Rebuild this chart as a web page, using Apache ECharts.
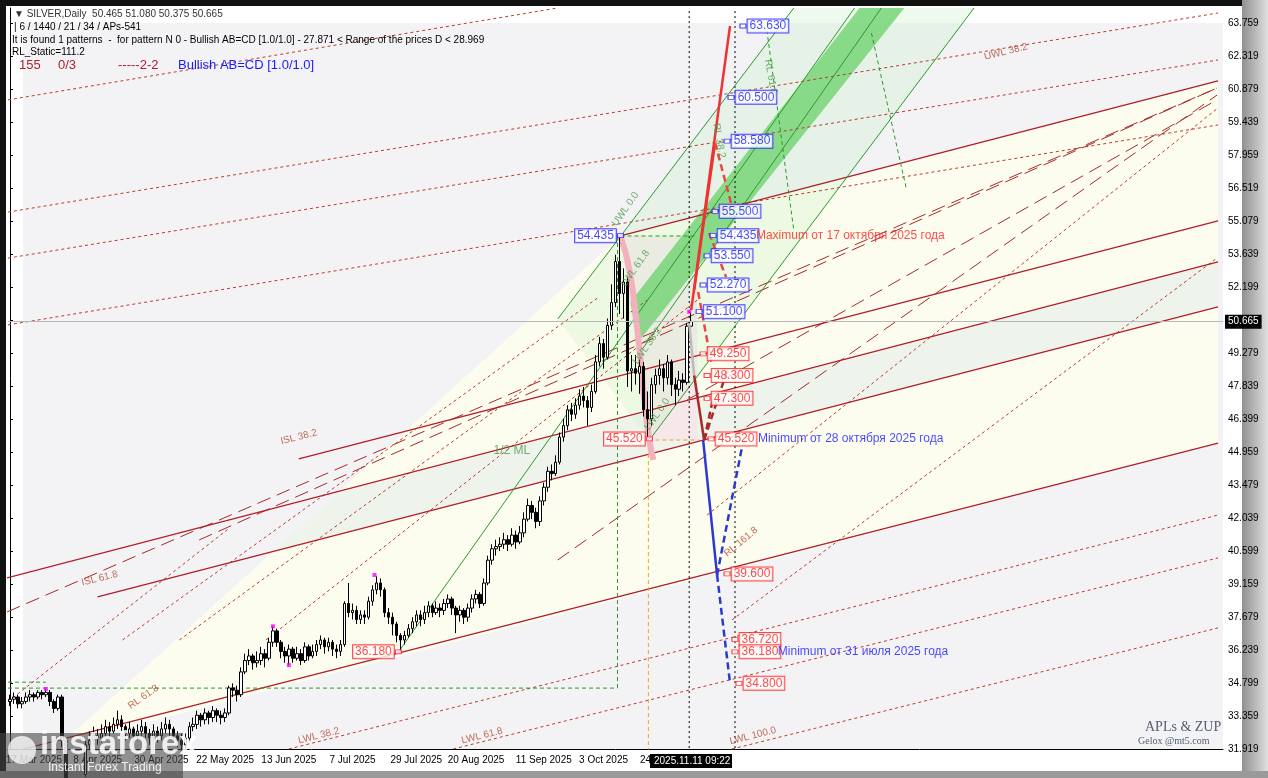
<!DOCTYPE html>
<html><head><meta charset="utf-8">
<script src="https://cdn.jsdelivr.net/npm/echarts@6/dist/echarts.min.js"></script>
<style>html,body{margin:0;padding:0;background:#111;}#c{width:1268px;height:778px;}</style>
</head><body><div id="c"></div>
<script>
// ---- data ----
const closes=[34.1,34.2,33.9,34.0,34.2,34.3,34.2,34.4,34.3,34.4,34.0,33.7,34.2,32.3,29.6,29.9,29.7,31.0,30.8,32.1,32.3,32.5,32.4,32.6,32.9,32.7,33.0,33.2,32.9,32.6,32.8,32.5,32.7,32.9,32.6,32.4,32.7,32.5,32.8,33.0,32.8,32.5,32.3,32.1,32.4,32.9,33.0,33.4,33.2,33.5,33.3,33.6,33.4,33.3,33.5,34.6,34.5,34.3,35.3,35.8,36.0,35.7,35.8,36.1,35.9,36.6,37.1,36.6,36.2,36.0,36.3,35.9,36.1,35.8,36.4,36.0,36.2,36.5,36.7,36.4,36.6,36.3,36.2,36.5,38.3,37.9,38.0,37.6,37.8,37.7,38.4,38.9,39.2,38.9,37.9,37.7,37.4,36.9,36.7,36.9,37.2,37.5,37.8,37.6,37.9,38.2,37.9,38.1,38.0,38.3,38.5,38.1,37.8,38.0,37.7,38.1,38.5,38.7,38.3,39.2,40.2,40.7,40.8,40.9,41.1,40.9,41.3,41.0,41.4,42.0,42.6,42.3,41.9,42.8,43.4,44.1,44.0,44.5,45.6,46.1,46.8,46.6,47.0,47.4,47.2,46.9,47.6,48.9,49.7,49.1,50.5,51.5,53.3,51.9,52.4,48.5,48.6,48.4,48.7,46.8,46.4,47.9,48.3,48.6,48.2,48.9,47.9,47.7,48.1,48.0,50.465,50.665];
const opens=[34.0,34.1,34.2,33.9,34.0,34.2,34.3,34.2,34.4,34.3,34.4,34.0,33.7,34.2,32.3,29.6,29.9,29.7,31.0,30.8,32.1,32.3,32.5,32.4,32.6,32.9,32.7,33.0,33.2,32.9,32.6,32.8,32.5,32.7,32.9,32.6,32.4,32.7,32.5,32.8,33.0,32.8,32.5,32.3,32.1,32.4,32.9,33.0,33.4,33.2,33.5,33.3,33.6,33.4,33.3,33.5,34.6,34.5,34.3,35.3,35.8,36.0,35.7,35.8,36.1,35.9,36.6,37.1,36.6,36.2,36.0,36.3,35.9,36.1,35.8,36.4,36.0,36.2,36.5,36.7,36.4,36.6,36.3,36.2,36.5,38.3,37.9,38.0,37.6,37.8,37.7,38.4,38.9,39.2,38.9,37.9,37.7,37.4,36.9,36.7,36.9,37.2,37.5,37.8,37.6,37.9,38.2,37.9,38.1,38.0,38.3,38.5,38.1,37.8,38.0,37.7,38.1,38.5,38.7,38.3,39.2,40.2,40.7,40.8,40.9,41.1,40.9,41.3,41.0,41.4,42.0,42.6,42.3,41.9,42.8,43.4,44.1,44.0,44.5,45.6,46.1,46.8,46.6,47.0,47.4,47.2,46.9,47.6,48.9,49.7,49.1,50.5,51.5,53.3,51.9,52.4,48.5,48.6,48.4,48.7,46.8,46.4,47.9,48.3,48.6,48.2,48.9,47.9,47.7,48.1,48.0,50.465];
const highs=[34.3,34.4,34.3,34.2,34.4,34.5,34.4,34.5,34.5,34.55,34.5,34.1,34.3,34.3,32.4,30.5,30.6,31.3,31.5,32.3,32.7,32.9,32.8,33.0,33.2,33.1,33.3,33.6,33.4,33.0,33.1,32.9,33.0,33.2,33.1,32.8,33.0,32.9,33.1,33.3,33.2,32.9,32.7,32.6,32.6,33.1,33.3,33.6,33.5,33.7,33.6,33.8,33.7,33.6,33.7,34.7,34.8,34.7,35.5,36.1,36.3,36.1,36.2,36.4,36.3,36.8,37.3,37.2,36.7,36.4,36.5,36.4,36.4,36.3,36.6,36.5,36.5,36.7,36.9,36.8,36.8,36.7,36.5,36.7,38.4,39.2,38.3,38.2,38.0,38.0,38.6,39.1,39.5,39.4,39.0,38.1,37.9,37.5,37.0,37.1,37.4,37.7,38.0,38.0,38.2,38.4,38.3,38.4,38.3,38.5,38.7,38.6,38.2,38.2,38.1,38.3,38.7,38.9,38.8,39.4,40.4,40.9,41.1,41.2,41.4,41.3,41.6,41.5,41.7,42.3,42.9,42.8,42.5,43.0,43.6,44.3,44.4,44.8,45.8,46.4,47.0,47.1,47.3,47.7,47.8,47.4,47.9,49.2,50.0,49.9,50.8,52.3,53.6,54.435,53.0,52.6,49.2,49.2,49.0,48.9,47.6,48.2,48.6,49.0,48.8,49.2,49.0,48.2,48.5,48.4,50.6,51.08];
const lows=[33.8,33.9,33.7,33.7,33.9,34.0,34.0,34.1,34.1,34.2,33.8,33.5,33.6,32.0,29.3,28.4,29.2,29.5,30.4,30.7,31.9,32.1,32.1,32.2,32.4,32.4,32.6,32.8,32.7,32.3,32.4,32.2,32.3,32.5,32.4,32.1,32.2,32.2,32.3,32.6,32.5,32.2,32.0,31.8,31.9,32.2,32.7,32.8,32.9,33.0,33.0,33.1,33.1,33.0,33.1,33.4,34.2,34.0,34.2,35.2,35.6,35.4,35.5,35.6,35.5,35.8,36.4,36.4,35.9,35.7,35.6,35.7,35.8,35.6,35.7,35.8,35.9,36.0,36.3,36.1,36.2,36.0,35.9,36.0,36.4,37.7,37.6,37.4,37.4,37.4,37.6,38.2,38.7,38.6,37.7,37.4,36.9,36.6,36.18,36.5,36.8,37.0,37.3,37.3,37.4,37.7,37.7,37.8,37.7,37.8,38.1,37.8,37.0,37.5,37.4,37.5,37.9,38.3,38.1,38.2,39.1,40.0,40.4,40.6,40.7,40.6,40.8,40.7,40.9,41.2,41.9,42.0,41.6,41.7,42.6,43.2,43.7,43.9,44.4,45.4,45.9,46.3,46.4,46.8,46.9,46.1,46.7,47.5,48.7,48.6,49.0,50.3,51.3,51.0,50.8,47.8,47.6,47.9,47.5,46.5,45.52,46.1,47.5,47.9,47.6,47.9,47.4,47.0,47.4,47.6,47.9,50.375];
const dateTickIdx=[6,22,38,54,70,86,102,117,134,149,165];
const dateTickText=['17 Mar 2025','8 Apr 2025','30 Apr 2025','22 May 2025','13 Jun 2025','7 Jul 2025','29 Jul 2025','20 Aug 2025','11 Sep 2025','3 Oct 2025','24 Oct 2025'];
const yTickText=['31.919','33.359','34.799','36.239','37.679','39.159','40.599','42.039','43.479','44.959','46.399','47.839','49.279','','52.199','53.639','55.079','56.519','57.959','59.439','60.879','62.319','63.759'];
const lastPrice=50.665;
const blueLevels=[[184,63.630],[181,60.500],[180,58.580],[177,55.500],[176.5,54.435],[175,53.550],[174,52.270],[173,51.100]];
const redLevels=[[174,49.250],[175,48.300],[175,47.300],[176,45.520],[180,39.600],[182,36.720],[182,36.180],[183,34.800]];
const leftBlue=[[153.25,54.435]];
const leftRed=[[160.5,45.520],[97.5,36.180]];
const pivots=[[9,34.55],[66,37.3],[91.5,39.55],[70,35.6],[97.5,36.18],[153.25,54.435],[160.5,45.52],[170.5,51.1]];
// trend lines (bar index, price)
const solidRed=[[[153.25,54.42],[303.25,61.22]],[[72.5,44.64],[303.25,55.08]],[[-0.75,39.42],[303.25,53.28]],[[22,38.59],[303.25,51.31]],[[-0.5,31.74],[303.25,45.34]]];
const dashedRed=[[[-0.5,60.39],[137.5,64.42]],[[-0.5,55.47],[303.25,64.2]],[[-0.5,53.45],[303.25,62.14]],[[-0.5,50.52],[303.25,59.29]],[[70,31.919],[303.25,42.18]],[[111.25,31.919],[303.25,40.3]],[[181.25,31.919],[303.25,37.23]],
 [[28.25,36.7],[147.5,51.7]],[[42.5,36.7],[160,51.61]],[[64.25,36.7],[172.5,51.61]],[[181.25,37.58],[303,53.45]],[[175,42.18],[303,60.0]],[[-0.5,34.0],[55,41.6]]];
const longDashRed=[[[-0.75,37.93],[303,60.91]],[[47.5,41.09],[303,60.91]],[[137.5,40.21],[303,60.6]],[[170,47.23],[303,60.39]]];
const greenLines=[[[97.5,36.17],[212,64.42]],[[137.5,50.78],[196.75,64.42]],[[160.5,45.47],[242,64.42]],[[158.5,49.4],[218.75,64.42]]];
const greenBand=[[155.75,51.52],[213.25,64.42],[224.5,64.42],[157.5,49.73]];
const mintArea=[[137.5,50.78],[196.75,64.42],[242,64.42],[160.5,45.47]];
const yellowArea=[[12.5,32.09],[153.25,54.42],[303.25,61.22],[303.25,45.34]];
const mintBand=[[82.25,43.15],[303.25,53.28],[303.25,51.31],[66,40.6]];
const pinkArea=[[153.25,54.42],[172.5,54.42],[172.5,45.47],[160.5,45.47]];
const pinkCurve=[[153.25,54.42],[155.5,52.93],[157.5,50.3],[159.25,47.23],[160.5,45.47],[161.5,44.6]];
const greenDashed=[[[152.5,54.42],[152.5,34.59]],[[-0.5,34.59],[152.5,34.59]],[[153.25,54.42],[172.5,54.42]],[[190,63.45],[196.75,54.68]],[[216.25,63.32],[225,56.5]],[[-0.5,34.85],[9,34.85]]];
const orangeDashed=[[[160.25,45.47],[160.25,31.74]],[[160.25,45.47],[173,45.47]]];
const vDotted=[170.5,182];
const fcRedSolid=[[[171,51.17],[180.75,63.63]],[[171.75,52.05],[177,58.5]]];
const fcRedDashed=[[[177,58.5],[181,55.87]],[[175.5,54.55],[179.75,52.62]],[[172.75,51.96],[176,48.9]]];
const fcBrownSolid=[[[171.75,48.3],[174.25,45.47]]];
const fcBrownDashed=[[[174.25,45.47],[180,48.5]],[[174.25,45.47],[176.5,47.3]]];
const fcGray=[[[170.5,50.6],[171.75,48.3]]];
const fcBlueSolid=[[[174,45.47],[177.5,39.55]]];
const fcBlueDashed=[[[177.5,39.55],[180.75,34.81]],[[177.5,39.55],[183.75,45.16]]];
const lineTexts=[['ISL 38.2',72.5,45.6,14,'#b04a30'],['ISL 61.8',22.5,39.4,14,'#b04a30'],['1/2 ML',126,45.0,0,'#4a9a4a'],['UWL 38.2',250,62.5,14,'#b04a30'],['LWL 38.2',77.5,32.5,14,'#b04a30'],['LWL 61.8',118.5,32.5,14,'#b04a30'],['LWL 100.0',186.5,32.5,14,'#b04a30'],['RL 61.8',33.5,34.2,35,'#b04a30'],['RL 161.8',183.5,41.0,40,'#b04a30'],['UWL 0.0',154.5,55.6,55,'#4a9a4a'],['RL 61.8',191,61.4,-80,'#4a9a4a'],['RL 38.2',178,58.6,-80,'#4a9a4a'],['LWL 38.2',160,49.6,55,'#4a9a4a'],['LWL 61.8',157,53.0,55,'#4a9a4a'],['LWL 0.0',162.5,46.6,55,'#4a9a4a']];
const N=305;
const YMIN=31.919, YINT=1.44727, YMAX=64.42;
// ---- build ----
const cats=[];for(let i=0;i<N;i++){cats.push('');}
dateTickIdx.forEach((k,j)=>cats[k]=dateTickText[j]);
const candles=closes.map((c,i)=>[opens[i],c,lows[i],highs[i]]);
const series=[];
function poly(pts,color,z){series.push({type:'custom',xAxisIndex:1,yAxisIndex:0,z:z,silent:true,data:[0],clip:true,
 renderItem:(p,api)=>({type:'polygon',shape:{points:pts.map(q=>api.coord(q))},style:{fill:color}})});}
poly(yellowArea,'#fdfdef',0.1);poly(mintBand,'#eef4ec',0.2);poly(pinkArea,'rgba(247,228,234,0.8)',0.3);
poly(mintArea,'rgba(205,240,205,0.35)',0.4);poly(greenBand,'rgba(125,214,125,0.9)',0.5);
function lines(arr,color,width,type,z){arr.forEach(s=>series.push({type:'line',xAxisIndex:1,yAxisIndex:0,data:s,symbol:'none',silent:true,z:z||1,
 lineStyle:{color:color,width:width,type:type},clip:true}));}
lines(dashedRed,'#c0392b',1,[3,3]);
lines(longDashRed,'#a52a2a',1,[14,7]);
lines(solidRed,'#b01e2a',1.3,'solid');
lines(greenLines,'#2a9a2a',1,'solid');
lines(greenDashed,'#2a9a2a',1,[4,3]);
lines(orangeDashed,'#f5a020',1,[4,3]);
vDotted.forEach(x=>lines([[[x,31.74],[x,64.42]]],'#000',1,[2,3]));
series.push({type:'line',xAxisIndex:1,yAxisIndex:0,data:pinkCurve,smooth:true,symbol:'none',silent:true,z:1.5,lineStyle:{color:'#f3b0bd',width:6}});
series.push({type:'candlestick',xAxisIndex:0,yAxisIndex:0,data:candles,barWidth:3,z:3,
 itemStyle:{color:'#ffffff',color0:'#000000',borderColor:'#000',borderColor0:'#000',borderWidth:1},
 markLine:{symbol:'none',silent:true,lineStyle:{color:'#b8b8b8',type:'solid',width:1},
  label:{position:'end',formatter:lastPrice.toFixed(3),backgroundColor:'#000',color:'#fff',padding:[2,3],fontSize:10,fontFamily:'Liberation Sans',distance:2},
  data:[{yAxis:lastPrice}]}});
lines(fcGray,'#bbbbbb',2.5,'solid',4);
lines(fcRedSolid,'#ee3333',2.5,'solid',4);
lines(fcRedDashed,'#ee4444',2.5,[7,4],4);
lines(fcBrownSolid,'#a52a2a',2.5,'solid',4);
lines(fcBrownDashed,'#a52a2a',2.5,[7,4],4);
lines(fcBlueSolid,'#2a3ad0',2.5,'solid',4);
lines(fcBlueDashed,'#2a3ad0',2.5,[7,4],4);
function levelLabels(arr,color,pos){series.push({type:'scatter',xAxisIndex:1,yAxisIndex:0,data:arr,symbol:'rect',symbolSize:[6,4],z:6,silent:true,
 itemStyle:{color:'#fff',borderColor:color,borderWidth:1},
 label:{show:true,position:pos,distance:1,formatter:p=>p.value[1].toFixed(3),color:color,fontSize:12,fontFamily:'Liberation Sans',backgroundColor:'#fff',borderColor:color,borderWidth:1,padding:[1,2,0,2]}});}
levelLabels(blueLevels,'#1a1aff','right');levelLabels(redLevels,'#ff1a1a','right');
levelLabels(leftBlue,'#1a1aff','left');levelLabels(leftRed,'#ff1a1a','left');
series.push({type:'scatter',xAxisIndex:1,yAxisIndex:0,data:pivots,symbolSize:4,symbol:'rect',itemStyle:{color:'#ff00ff'},z:5,silent:true});
series.push({type:'scatter',xAxisIndex:1,yAxisIndex:0,symbolSize:0,z:5,silent:true,
 data:lineTexts.map(t=>({value:[t[1],t[2]],label:{formatter:t[0],rotate:t[3],color:t[4],fontSize:t[0]=='1/2 ML'?12:10}})),
 label:{show:true,position:'inside',fontFamily:'Liberation Sans'}});
series.push({type:'scatter',xAxisIndex:1,yAxisIndex:0,symbolSize:0,z:6,silent:true,
 data:[{value:[186,54.435],label:{formatter:'Maximum от 17 октября 2025 года',color:'#ff2020'}},
       {value:[186.5,45.52],label:{formatter:'Minimum от 28 октября 2025 года',color:'#1a1aff'}},
       {value:[191.5,36.18],label:{formatter:'Minimum от 31 июля 2025 года',color:'#1a1aff'}}],
 label:{show:true,position:'right',fontSize:12,fontFamily:'Liberation Sans'}});
const T=(x,y,t,o)=>Object.assign({type:'text',left:x,top:y,z:50,style:Object.assign({text:t,fill:'#222',font:'10px "Liberation Sans"'},o||{})});
const chart=echarts.init(document.getElementById('c'));
chart.setOption({animation:false,backgroundColor:'transparent',
 grid:{left:8,right:45,top:8,bottom:29,containLabel:false},
 xAxis:[{type:'category',data:cats,boundaryGap:true,axisLine:{show:true,lineStyle:{color:'#000'}},axisTick:{show:false},
   axisLabel:{interval:0,color:'#000',fontSize:10,fontFamily:'Liberation Sans',margin:6},splitLine:{show:false}},
  {type:'value',min:-0.5,max:N-0.5,show:false}],
 yAxis:[{type:'value',position:'right',min:YMIN,max:YMAX,interval:YINT,scale:true,
   axisLine:{show:true,lineStyle:{color:'#000'}},axisTick:{show:true,length:3,lineStyle:{color:'#000'}},splitLine:{show:false},
   axisLabel:{showMaxLabel:false,color:'#000',fontSize:10,fontFamily:'Liberation Sans',margin:5,
    formatter:v=>{const k=Math.round((v-YMIN)/YINT);return yTickText[k]||'';}}}],
 graphic:[
  {type:'rect',left:6,top:6,z:-20,shape:{width:1236,height:765},style:{fill:'#ffffff'}},
  {type:'rect',left:1242,top:0,z:-20,shape:{width:26,height:778},style:{fill:new echarts.graphic.LinearGradient(0,0,1,0,[{offset:0,color:'#909090'},{offset:1,color:'#e0e0e0'}])}},
  {type:'rect',left:0,top:771,z:-20,shape:{width:1268,height:7},style:{fill:'#9a9a9a'}},
  {type:'rect',left:23,top:23,z:-15,shape:{width:1200,height:726},style:{fill:'#f3f3f5'}},
  T(14,9,'▼ SILVER,Daily  50.465 51.080 50.375 50.665',{fill:'#333'}),
  T(14,22,'| 6 / 1440 / 21 / 34 / APs-541',{fill:'#000'}),
  T(12,35,'It is found 1 patterns  -  for pattern N 0 - Bullish AB=CD [1.0/1.0] - 27.871 < Range of the prices D < 28.969',{fill:'#000'}),
  T(12,47,'RL_Static=111.2',{fill:'#000'}),
  T(19,59,'155',{fill:'#b02030',font:'13px "Liberation Sans"'}),
  T(58,59,'0/3',{fill:'#b02030',font:'13px "Liberation Sans"'}),
  T(118,59,'-----2-2',{fill:'#b02030',font:'13px "Liberation Sans"'}),
  T(178,59,'Bullish AB=CD [1.0/1.0]',{fill:'#1a1aff',font:'13px "Liberation Sans"'}),
  T(1145,720,'APLs & ZUP',{fill:'#556070',font:'14px "Liberation Serif"'}),
  T(1138,736,'Gelox @mt5.com',{fill:'#556070',font:'10px "Liberation Serif"'}),
  {type:'rect',left:650,top:754,z:40,shape:{width:82,height:14},style:{fill:'#000'}},
  T(654,756,'2025.11.11 09:22',{fill:'#fff'}),
  {type:'rect',left:0,top:733,z:45,shape:{width:183,height:45},style:{fill:'rgba(70,70,70,0.6)'}},
  {type:'circle',left:8,top:736,z:46,shape:{r:14},style:{fill:'rgba(255,255,255,0.75)'}},
  T(40,728,'instaforex',{fill:'rgba(255,255,255,0.85)',font:'bold 33px "Liberation Sans"'}),
  T(48,762,'Instant Forex Trading',{fill:'rgba(255,255,255,0.85)',font:'12px "Liberation Sans"'})
 ],
 series:series});
</script></body></html>
